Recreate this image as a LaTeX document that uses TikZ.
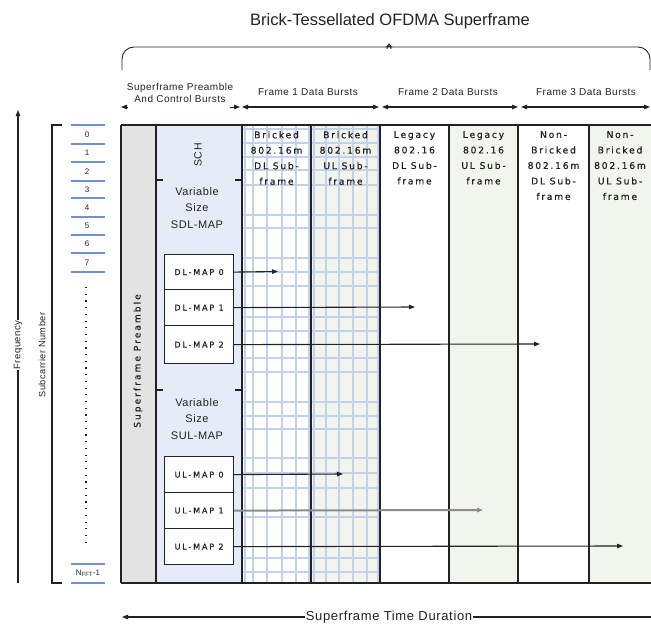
\documentclass[tikz,border=0pt]{standalone}
\usepackage{fontspec}
\setmainfont{Liberation Sans}
\newfontfamily\cellfont[LetterSpace=19,FakeBold=0.6]{DejaVu Sans}
\newfontfamily\mapfont[LetterSpace=23,FakeBold=0.6]{DejaVu Sans}
\newfontfamily\widefont[LetterSpace=5]{Liberation Sans}
\usetikzlibrary{arrows.meta}

\definecolor{gridblue}{HTML}{C3D2EC}
\definecolor{panelblue}{HTML}{E6ECF7}
\definecolor{panelgreen}{HTML}{F2F5EE}
\definecolor{preamblegray}{HTML}{E3E3E3}
\definecolor{scblue}{HTML}{6E92D2}
\definecolor{ink}{HTML}{222222}
\definecolor{softink}{HTML}{8C8C8C}

\tikzset{
  frameline/.style={draw=ink, line width=1.4pt},
  gridline/.style={draw=gridblue, line width=1.3pt},
  tip/.style={-{Triangle[length=6pt,width=4.5pt]}},
  bothtips/.style={{Triangle[length=6pt,width=4.5pt]}-{Triangle[length=6pt,width=4.5pt]}},
  maparrow/.style={tip, draw=ink, line width=1.1pt},
  mapbox/.style={draw=ink, line width=1.2pt, fill=white, minimum width=69pt,
    inner sep=0pt, anchor=north west, text=ink,
    font=\mapfont\fontsize{8}{10}\selectfont},
  cell/.style={align=center, inner sep=0pt, anchor=north, text=ink,
    font=\cellfont\fontsize{9.2}{15.5}\selectfont},
  hdr/.style={align=center, inner sep=0pt, text=ink,
    font=\widefont\fontsize{10}{12}\selectfont},
  mapsize/.style={align=center, inner sep=0pt, text=ink,
    font=\widefont\fontsize{11}{16.5}\selectfont},
  sclabel/.style={inner sep=0pt, text=ink, font=\fontsize{8}{9}\selectfont},
  scline/.style={draw=scblue, line width=1.5pt},
}

\begin{document}
\begin{tikzpicture}[x=1pt,y=-1pt]
\useasboundingbox (0,0) rectangle (651,624);

% ---- title and brace ----
\node[text=ink, font=\fontsize{16.5}{18}\selectfont, inner sep=0pt] (title) at (390,21) {Brick-Tessellated OFDMA Superframe};
\draw[draw=ink, line width=0.9pt, rounded corners=12pt]
  (122,70) -- (122,47) -- (381,47)
  .. controls (386,47) and (388,43) .. (389,37)
  .. controls (390,43) and (392,47) .. (397,47)
  -- (650,47) -- (650,70);

% ---- section headers ----
\node[hdr] (hpre) at (180,93) {Superframe Preamble\\And Control Bursts};
\node[hdr] (hf1) at (308,92) {Frame 1 Data Bursts};
\node[hdr] (hf2) at (448,92) {Frame 2 Data Bursts};
\node[hdr] (hf3) at (586,92) {Frame 3 Data Bursts};

\coordinate (p0) at (121,107); \coordinate (p0s) at (128,107);
\coordinate (p1) at (240,107); \coordinate (p1s) at (230,107);
\coordinate (f1a) at (242,107); \coordinate (f1b) at (379,107);
\coordinate (f2a) at (382,107); \coordinate (f2b) at (518,107);
\coordinate (f3a) at (521,107); \coordinate (f3b) at (650,107);
\draw[tip, draw=ink, line width=0.8pt] (p0s) -- (p0);
\draw[tip, draw=ink, line width=0.8pt] (p1s) -- (p1);
\draw[bothtips, draw=ink, line width=1.2pt] (f1a) -- (f1b);
\draw[bothtips, draw=ink, line width=1.2pt] (f2a) -- (f2b);
\draw[bothtips, draw=ink, line width=1.2pt] (f3a) -- (f3b);

% ---- column fills ----
\fill[preamblegray] (121,125) rectangle (156,583);
\fill[panelblue] (156,125) rectangle (242,583);
\fill[panelgreen] (311,125) rectangle (380,583);
\fill[panelgreen] (449,125) rectangle (518,583);
\fill[panelgreen] (589,125) rectangle (651,583);

% ---- brick grid of the 802.16m sub-frames ----
\foreach \gx in {245,253,267,282,296,309,314,326,339,353,367,378}
  \draw[gridline] (\gx,125) -- (\gx,583);
\foreach \gy in {129,143,157,170,185,215,228,258,272,286,317,331,358,372,402,416,429,458,473,488,517,558,572}
  \draw[gridline] (242,\gy) -- (380,\gy);

% ---- frame outline and column borders ----
\draw[frameline] (121,125) -- (651,125);
\draw[frameline] (121,583) -- (651,583);
\foreach \cx in {121,156,242,311,380,449,518,589}
  \draw[frameline] (\cx,125) -- (\cx,583);

% ---- control column ----
\node[rotate=90, inner sep=0pt, text=ink, font=\widefont\fontsize{10.5}{12}\selectfont] (sch) at (198,155) {SCH};
\draw[frameline] (156,180) -- (163,180);
\draw[frameline] (235,180) -- (242,180);
\node[mapsize] (sdl) at (197,208) {Variable\\Size\\SDL-MAP};
\draw[frameline] (156,390) -- (163,390);
\draw[frameline] (235,390) -- (242,390);
\node[mapsize] (sul) at (197,419) {Variable\\Size\\SUL-MAP};

\node[mapbox, minimum height=35pt] (dl0) at (164,254) {DL-MAP 0};
\node[mapbox, minimum height=36pt] (dl1) at (164,289) {DL-MAP 1};
\node[mapbox, minimum height=38pt] (dl2) at (164,325) {DL-MAP 2};
\node[mapbox, minimum height=36pt] (ul0) at (164,456) {UL-MAP 0};
\node[mapbox, minimum height=36pt] (ul1) at (164,492) {UL-MAP 1};
\node[mapbox, minimum height=36pt] (ul2) at (164,528) {UL-MAP 2};

% ---- map pointers into the sub-frames ----
\coordinate (dl0t) at (278,271.5);
\coordinate (dl1t) at (415,307);
\coordinate (dl2t) at (540,344);
\coordinate (ul0t) at (343,474);
\coordinate (ul1t) at (483,510);
\coordinate (ul2t) at (623,546);
\draw[maparrow] (dl0.east) -- (dl0t);
\draw[maparrow] (dl1.east) -- (dl1t);
\draw[maparrow] (dl2.east) -- (dl2t);
\draw[maparrow] (ul0.east) -- (ul0t);
\draw[maparrow, draw=softink, line width=2pt] (ul1.east) -- (ul1t);
\draw[maparrow] (ul2.east) -- (ul2t);

% ---- preamble ----
\node[rotate=90, inner sep=0pt, text=ink, font=\mapfont\fontsize{9}{10}\selectfont] (pre) at (138,361) {Superframe Preamble};

% ---- sub-frame headings ----
\node[cell] (c1) at (276.5,131) {Bricked\\802.16m\\DL Sub-\\frame};
\node[cell] (c2) at (345.5,131) {Bricked\\802.16m\\UL Sub-\\frame};
\node[cell] (c3) at (414.5,131) {Legacy\\802.16\\DL Sub-\\frame};
\node[cell] (c4) at (483.5,131) {Legacy\\802.16\\UL Sub-\\frame};
\node[cell] (c5) at (553.5,131) {Non-\\Bricked\\802.16m\\DL Sub-\\frame};
\node[cell] (c6) at (620,131) {Non-\\Bricked\\802.16m\\UL Sub-\\frame};

% ---- subcarrier axis ----
\coordinate (fq0) at (18,583); \coordinate (fq1) at (18,110);
\draw[tip, draw=ink, line width=1.1pt] (fq0) -- (fq1);
\node[rotate=90, fill=white, inner sep=1pt, text=ink, font=\widefont\fontsize{9.5}{11}\selectfont] (freq) at (18,345) {Frequency};
\draw[draw=ink, line width=1.1pt] (62,125) -- (52,125) -- (52,583) -- (62,583);
\node[rotate=90, inner sep=0pt, text=ink, font=\widefont\fontsize{9.2}{11}\selectfont] (scnum) at (42,355) {Subcarrier Number};

\foreach \ly in {125,144,162,181,198,217,235,253,272,564,583}
  \draw[scline] (71,\ly) -- (105,\ly);
\foreach \k/\ly in {0/134.5,1/153,2/171.5,3/189.5,4/207.5,5/226,6/244,7/262.5}
  \node[sclabel] (sc\k) at (87,\ly) {\k};
\node[sclabel] (scn) at (88,573.5) {N\textsubscript{FFT}-1};
\draw[draw=ink, line width=1.2pt, dash pattern=on 1.2pt off 5.5pt] (86,287) -- (86,545);

% ---- time axis ----
\node[text=ink, fill=white, inner sep=0.5pt, font=\widefont\fontsize{13}{15}\selectfont] (dur) at (389,617) {Superframe Time Duration};
\coordinate (t0) at (122,617); \coordinate (t1) at (651,617);
\draw[tip, draw=ink, line width=1.1pt] (dur.west) -- (t0);
\draw[draw=ink, line width=1.1pt] (dur.east) -- (t1);
\end{tikzpicture}
\end{document}
